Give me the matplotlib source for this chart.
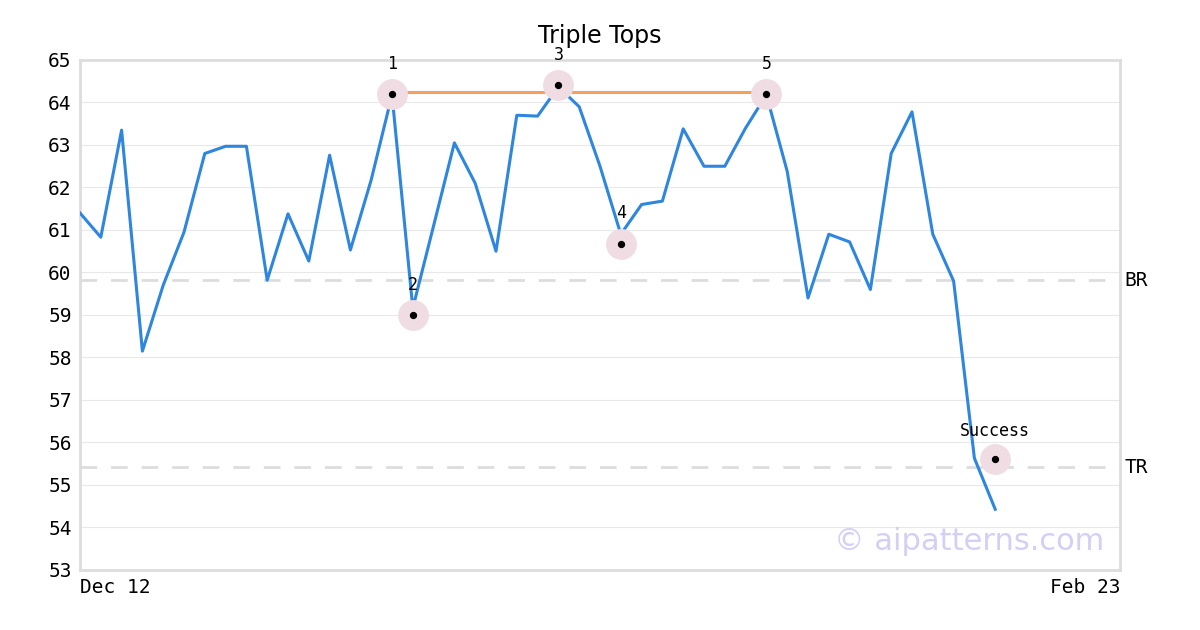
import matplotlib
matplotlib.use("Agg")
import matplotlib.pyplot as plt

values = [61.4,60.83,63.35,58.15,59.7,60.95,62.8,62.97,62.97,59.82,61.38,60.27,62.76,60.53,62.18,64.18,
          59.16,61.1,63.05,62.1,60.5,63.7,63.68,64.37,63.9,62.5,60.9,61.6,61.68,63.38,62.5,62.5,63.4,64.18,
          62.38,59.4,60.9,60.72,59.6,62.8,63.78,60.9,59.8,55.63,54.43]
pivot_idx = [15, 16, 23, 26, 33]
pivot_val = [64.2, 59.0, 64.4, 60.68, 64.2]
pivot_lbl = ["1", "2", "3", "4", "5"]
success_idx, success_val = 44, 55.6
br, tr = 59.82, 55.42
top_line = 64.25
xlabels = ["Dec 12", "Feb 23"]
n_slots = 50

fig = plt.figure(figsize=(12, 6.3), dpi=100)
ax = fig.add_axes([80/1200, 60/630, 1040/1200, 510/630])
mono = "DejaVu Sans Mono"
ax.set_xlim(0, n_slots)
ax.set_ylim(53, 65)
ax.set_yticks(range(53, 66))
ax.grid(axis="y", color="#e8e8e8", lw=0.8)
ax.set_axisbelow(True)
for s in ax.spines.values():
    s.set_color("#dddddd"); s.set_linewidth(2)
ax.tick_params(length=0, labelsize=14, pad=6)
for t in ax.get_yticklabels():
    t.set_fontfamily(mono)
ax.set_xticks([0, n_slots])
ax.set_xticklabels(xlabels, fontfamily=mono)
ax.get_xticklabels()[0].set_ha("left")
ax.get_xticklabels()[1].set_ha("right")

ax.axhline(br, color="#dddddd", ls="--", lw=2, dashes=(6, 5))
ax.axhline(tr, color="#dddddd", ls="--", lw=2, dashes=(6, 5))
ax.text(1.004, br, "BR", transform=ax.get_yaxis_transform(), va="center", fontsize=14, fontfamily=mono)
ax.text(1.004, tr, "TR", transform=ax.get_yaxis_transform(), va="center", fontsize=14, fontfamily=mono)

ax.plot(range(len(values)), values, color="#2e86de", lw=2.2, zorder=3)
ax.plot([pivot_idx[0], pivot_idx[-1]], [top_line, top_line], color="#f5a05a", lw=2.2, zorder=2)

xs = pivot_idx + [success_idx]
ys = pivot_val + [success_val]
ax.scatter(xs, ys, s=450, color="#f0dde3", zorder=4)
ax.scatter(xs, ys, s=18, color="black", zorder=5)
for x, y, l in zip(pivot_idx, pivot_val, pivot_lbl):
    ax.text(x, y + 0.5, l, ha="center", va="bottom", fontsize=12, fontfamily=mono, zorder=6)
ax.text(success_idx, success_val + 0.45, "Success", ha="center", va="bottom", fontsize=12, fontfamily=mono)

ax.set_title("Triple Tops", fontsize=17, pad=12)
ax.text(0.985, 0.055, "© aipatterns.com", transform=ax.transAxes, ha="right", va="center",
        fontsize=22, color="#d4cff5")
fig.savefig("out.png")
